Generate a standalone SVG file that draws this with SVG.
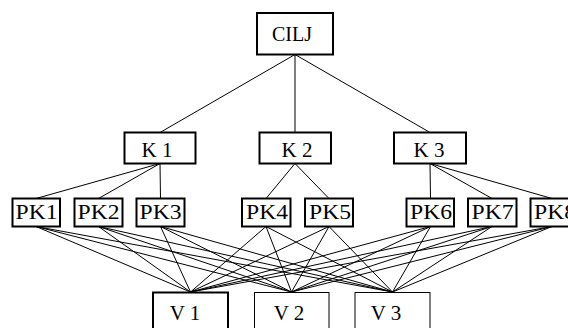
<svg xmlns="http://www.w3.org/2000/svg" width="568" height="328" viewBox="0 0 568 328">
<style>
.bg{fill:#fff}
.box{fill:#fff;stroke:#000;stroke-width:2}
.thin{fill:#fff;stroke:#000;stroke-width:1}
.lbl{font-family:"Liberation Serif","Times New Roman",serif;font-size:20px;fill:#000;text-anchor:middle}
.pk{font-size:21px}
#edges line{stroke:#000;stroke-width:1}
</style>
<rect class="bg" x="0" y="0" width="568" height="328"/>
<g id="edges">
<line x1="295" y1="54.5" x2="160" y2="132.5"/>
<line x1="295" y1="54.5" x2="295" y2="132.5"/>
<line x1="295" y1="54.5" x2="430" y2="132.5"/>
<line x1="160" y1="163.5" x2="36" y2="198.5"/>
<line x1="160" y1="163.5" x2="98.5" y2="198.5"/>
<line x1="160" y1="163.5" x2="160.5" y2="198.5"/>
<line x1="295" y1="163.5" x2="266" y2="198.5"/>
<line x1="295" y1="163.5" x2="329" y2="198.5"/>
<line x1="430" y1="163.5" x2="430.5" y2="198.5"/>
<line x1="430" y1="163.5" x2="492" y2="198.5"/>
<line x1="430" y1="163.5" x2="552" y2="198.5"/>
<line x1="36" y1="226.5" x2="190.5" y2="292"/>
<line x1="36" y1="226.5" x2="291.5" y2="292"/>
<line x1="36" y1="226.5" x2="392.5" y2="292"/>
<line x1="98.5" y1="226.5" x2="190.5" y2="292"/>
<line x1="98.5" y1="226.5" x2="291.5" y2="292"/>
<line x1="98.5" y1="226.5" x2="392.5" y2="292"/>
<line x1="160.5" y1="226.5" x2="190.5" y2="292"/>
<line x1="160.5" y1="226.5" x2="291.5" y2="292"/>
<line x1="160.5" y1="226.5" x2="392.5" y2="292"/>
<line x1="266" y1="226.5" x2="190.5" y2="292"/>
<line x1="266" y1="226.5" x2="291.5" y2="292"/>
<line x1="266" y1="226.5" x2="392.5" y2="292"/>
<line x1="329" y1="226.5" x2="190.5" y2="292"/>
<line x1="329" y1="226.5" x2="291.5" y2="292"/>
<line x1="329" y1="226.5" x2="392.5" y2="292"/>
<line x1="430.5" y1="226.5" x2="190.5" y2="292"/>
<line x1="430.5" y1="226.5" x2="291.5" y2="292"/>
<line x1="430.5" y1="226.5" x2="392.5" y2="292"/>
<line x1="492" y1="226.5" x2="190.5" y2="292"/>
<line x1="492" y1="226.5" x2="291.5" y2="292"/>
<line x1="492" y1="226.5" x2="392.5" y2="292"/>
<line x1="552" y1="226.5" x2="190.5" y2="292"/>
<line x1="552" y1="226.5" x2="291.5" y2="292"/>
<line x1="552" y1="226.5" x2="392.5" y2="292"/>
</g>
<g id="CILJ"><rect class="box" x="257" y="13" width="76" height="41.5"/><text class="lbl" x="292" y="41">CILJ</text></g>
<g id="K1"><rect class="box" x="124.5" y="132.5" width="71" height="31"/><text class="lbl pk" x="157" y="156.5">K 1</text></g>
<g id="K2"><rect class="box" x="259.5" y="132.5" width="71.5" height="31"/><text class="lbl pk" x="297" y="156.5">K 2</text></g>
<g id="K3"><rect class="box" x="394" y="132.5" width="72" height="31"/><text class="lbl pk" x="429" y="156.5">K 3</text></g>
<g id="PK1"><rect class="box" x="12.5" y="198.5" width="47.5" height="28"/><text class="lbl pk" x="36.5" y="219" textLength="42" lengthAdjust="spacingAndGlyphs">PK1</text></g>
<g id="PK2"><rect class="box" x="74.5" y="198.5" width="48" height="28"/><text class="lbl pk" x="98.5" y="219" textLength="42" lengthAdjust="spacingAndGlyphs">PK2</text></g>
<g id="PK3"><rect class="box" x="136.5" y="198.5" width="48" height="28"/><text class="lbl pk" x="160.5" y="219" textLength="42" lengthAdjust="spacingAndGlyphs">PK3</text></g>
<g id="PK4"><rect class="box" x="242" y="198.5" width="48.5" height="28"/><text class="lbl pk" x="267" y="219" textLength="42" lengthAdjust="spacingAndGlyphs">PK4</text></g>
<g id="PK5"><rect class="box" x="305" y="198.5" width="48" height="28"/><text class="lbl pk" x="330" y="219" textLength="42" lengthAdjust="spacingAndGlyphs">PK5</text></g>
<g id="PK6"><rect class="box" x="406.5" y="198.5" width="47.5" height="28"/><text class="lbl pk" x="431" y="219" textLength="42" lengthAdjust="spacingAndGlyphs">PK6</text></g>
<g id="PK7"><rect class="box" x="468" y="198.5" width="48.5" height="28"/><text class="lbl pk" x="492.5" y="219" textLength="42" lengthAdjust="spacingAndGlyphs">PK7</text></g>
<g id="PK8"><rect class="box" x="530.5" y="198.5" width="48" height="28"/><text class="lbl pk" x="555" y="219" textLength="42" lengthAdjust="spacingAndGlyphs">PK8</text></g>
<g id="V1"><rect class="box" x="153" y="292.5" width="75" height="45"/><text class="lbl pk" x="185" y="319.5">V 1</text></g>
<g id="V2"><rect class="thin" x="254.5" y="292.5" width="74.5" height="45"/><text class="lbl pk" x="289" y="319.5">V 2</text></g>
<g id="V3"><rect class="thin" x="355" y="292.5" width="75" height="45"/><text class="lbl pk" x="386" y="319.5">V 3</text></g>
</svg>
